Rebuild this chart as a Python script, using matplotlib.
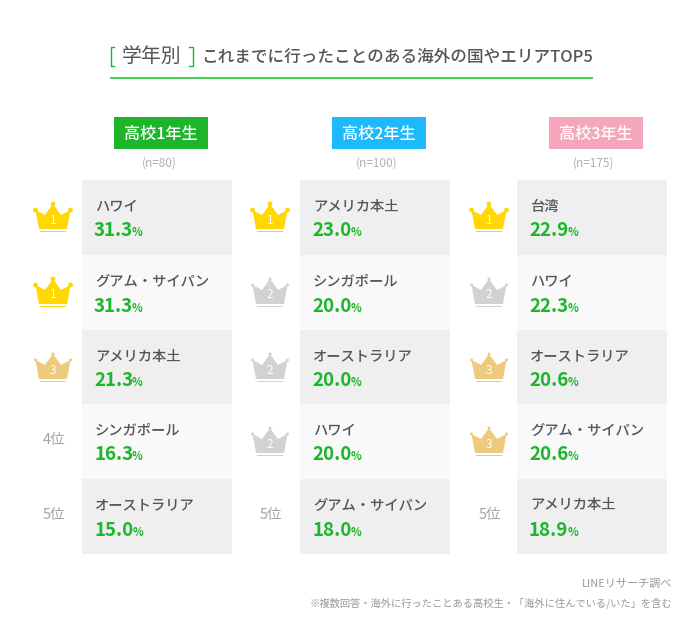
import matplotlib
matplotlib.use('Agg')
import matplotlib.pyplot as plt
import matplotlib.patches as patches

plt.rcParams['font.family'] = ['Noto Sans CJK JP', 'DejaVu Sans']

# datos
grades = ['高校1年生', '高校2年生', '高校3年生']
sample_sizes = ['(n=80)', '(n=100)', '(n=175)']
names_1 = ['ハワイ', 'グアム・サイパン', 'アメリカ本土', 'シンガポール', 'オーストラリア']
names_2 = ['アメリカ本土', 'シンガポール', 'オーストラリア', 'ハワイ', 'グアム・サイパン']
names_3 = ['台湾', 'ハワイ', 'オーストラリア', 'グアム・サイパン', 'アメリカ本土']
values_1 = [31.3, 31.3, 21.3, 16.3, 15.0]
values_2 = [23.0, 20.0, 20.0, 20.0, 18.0]
values_3 = [22.9, 22.3, 20.6, 20.6, 18.9]
ranks_1 = [1, 1, 3, 4, 5]
ranks_2 = [1, 2, 2, 2, 5]
ranks_3 = [1, 2, 3, 3, 5]

GREEN = '#1cb52c'
TEXT = '#555555'
GREY = '#a5a5a5'
header_colors = [GREEN, '#1eb9fb', '#f4a7bb']
crown_colors = {1: '#ffd800', 2: '#d2d2d2', 3: '#eecb7c'}
row_colors = ['#efefef', '#f9f9f9']

panel_x = [82, 300, 517]
crown_x = [53, 270, 489]
row_y = [180, 255, 330, 404, 479, 554]


def dibujar_corona(ax, cx, cy, rank):
    """Corona centrada en (cx, cy), en píxeles de la figura."""
    color = crown_colors[rank]
    r = 2.4 if rank == 1 else 1.5
    puntos = [(-14, 12), (-17.5, -7), (-8, -2), (0, -13), (8, -2), (17.5, -7), (14, 12)]
    ax.add_patch(patches.Polygon([(cx + x, cy + y) for x, y in puntos],
                                 facecolor=color, edgecolor='none'))
    for x, y in [(-17.5, -7), (0, -13), (17.5, -7)]:
        ax.add_patch(patches.Circle((cx + x, cy + y), r, facecolor=color, edgecolor='none'))
    ax.add_patch(patches.Rectangle((cx - 13, cy + 13.5), 26, 1.6,
                                   facecolor=color, edgecolor='none'))
    ax.text(cx, cy + 3, str(rank), color='white', fontsize=8.5,
            ha='center', va='center')


fig = plt.figure(figsize=(7, 6.39), dpi=100)
ax = fig.add_axes([0, 0, 1, 1])
ax.set_xlim(0, 700)
ax.set_ylim(639, 0)
ax.axis('off')

# titulo
ax.plot([110, 593], [78, 78], color='#2ecb3f', lw=1.3, solid_capstyle='butt')
ax.plot([114, 110.5, 110.5, 114], [47, 47, 66, 66], color=GREEN, lw=1.0)
ax.plot([189, 192.5, 192.5, 189], [47, 47, 66, 66], color=GREEN, lw=1.0)
ax.text(152, 56, '学年別', color=TEXT, fontsize=14.3, ha='center', va='center')
ax.text(201, 57, 'これまでに行ったことのある海外の国やエリアTOP5', color=TEXT,
        fontsize=11.95, fontweight='medium', ha='left', va='center')

renderer = fig.canvas.get_renderer()
columnas = zip(panel_x, crown_x, grades, sample_sizes, header_colors,
               [names_1, names_2, names_3], [values_1, values_2, values_3],
               [ranks_1, ranks_2, ranks_3])
for px, cx, grade, n, hcolor, names, values, ranks in columnas:
    # cabecera
    hx = px + 32
    ax.add_patch(patches.Rectangle((hx, 117), 94, 32, facecolor=hcolor, edgecolor='none'))
    ax.text(hx + 47, 134, grade, color='white', fontsize=11.6, fontweight='medium',
            ha='center', va='center')
    ax.text(hx + 45, 163, n, color='#b0b0b0', fontsize=8.5, ha='center', va='center')

    for i, (name, value, rank) in enumerate(zip(names, values, ranks)):
        top, bottom = row_y[i], row_y[i + 1]
        ax.add_patch(patches.Rectangle((px, top), 150, bottom - top,
                                       facecolor=row_colors[i % 2], edgecolor='none'))
        ax.text(px + 13, top + 26.5, name, color=TEXT, fontsize=10.3, fontweight='medium',
                ha='left', va='center')
        t = ax.text(px + 12, top + 51, f'{value:.1f}', color=GREEN, fontsize=13.5,
                    fontweight='bold', ha='left', va='center')
        # el % va pegado al valor, hay que medir el ancho
        ancho = t.get_window_extent(renderer).width
        ax.text(px + 11 + ancho, top + 53, '%', color=GREEN, fontsize=8,
                fontweight='bold', ha='left', va='center')

        if rank <= 3:
            dibujar_corona(ax, cx, top + 37, rank)
        else:
            ax.text(cx + 1, top + 36, f'{rank}位', color=GREY, fontsize=10.5,
                    ha='center', va='center')

# pie
ax.text(672, 584, 'LINEリサーチ調べ', color='#999999', fontsize=8, ha='right', va='center')
ax.text(672, 603, '※複数回答・海外に行ったことある高校生・「海外に住んでいる/いた」を含む',
        color='#999999', fontsize=7.4, ha='right', va='center')

fig.savefig('out.png', dpi=100, facecolor='white')
plt.close(fig)
